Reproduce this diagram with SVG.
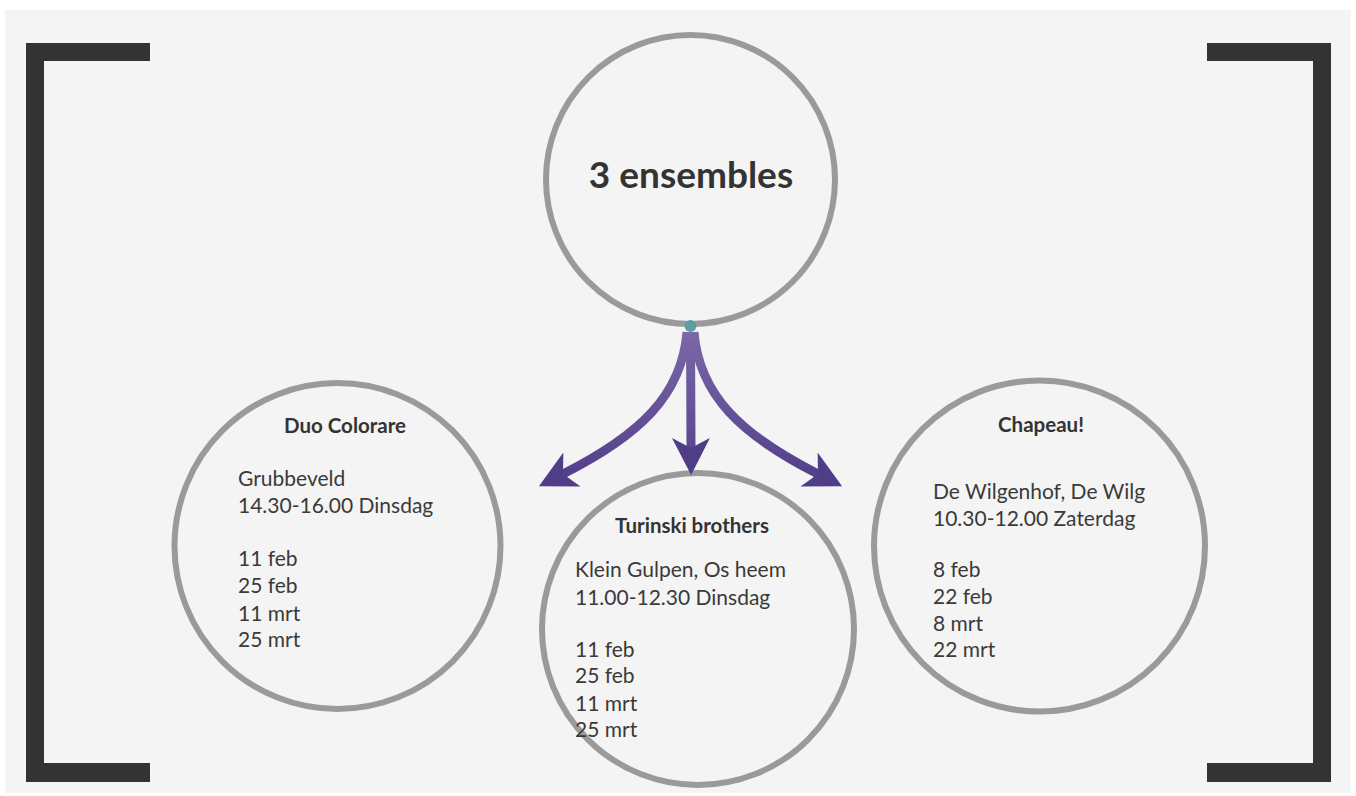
<svg xmlns="http://www.w3.org/2000/svg" width="1356" height="796" viewBox="0 0 1356 796">
<style>
.ring{fill:none;stroke:#9a9a9a;stroke-width:6}
.br{fill:#333}
.title{font-family:Lato,"Open Sans",sans-serif;font-weight:bold;fill:#333;text-anchor:middle}
.body{font-family:Lato,"Open Sans",sans-serif;font-size:21px;fill:#3a3a3a}
.arr{fill:none;stroke:url(#ag);stroke-width:9}
</style>
<defs>
<linearGradient id="ag" gradientUnits="userSpaceOnUse" x1="0" y1="330" x2="0" y2="480">
<stop offset="0" stop-color="#7b69a8"/>
<stop offset="1" stop-color="#533f8a"/>
</linearGradient>
<marker id="ah" viewBox="0 0 40 40" markerUnits="userSpaceOnUse" markerWidth="40" markerHeight="40" refX="10" refY="20" orient="auto">
<path d="M0,1 L37,20 L0,39 L10,20 Z" fill="#4f3d88"/>
</marker>
</defs>
<rect width="1356" height="796" fill="#ffffff"/>
<rect x="5" y="10" width="1346" height="783" fill="#f4f4f4"/>
<g id="brackets">
<path class="br" d="M26,43 H150 V61 H44 V763 H150 V782 H26 Z"/>
<path class="br" d="M1331,43 H1207 V61 H1313 V763 H1207 V782 H1331 Z"/>
</g>
<g id="node-main">
<circle class="ring" cx="690.5" cy="179.5" r="144.5"/>
<text class="title" x="691" y="188" font-size="37">3 ensembles</text>
</g>
<g id="node-duo">
<circle class="ring" cx="337.5" cy="546" r="163"/>
<text class="title" x="345" y="433" font-size="20.5">Duo Colorare</text>
<text class="body" x="238" y="486">Grubbeveld</text>
<text class="body" x="238" y="513">14.30-16.00 Dinsdag</text>
<text class="body" x="238" y="566">11 feb</text>
<text class="body" x="238" y="593">25 feb</text>
<text class="body" x="238" y="621">11 mrt</text>
<text class="body" x="238" y="647">25 mrt</text>
</g>
<g id="node-turinski">
<circle class="ring" cx="698" cy="629" r="156"/>
<text class="title" x="692" y="533" font-size="20.5">Turinski brothers</text>
<text class="body" x="575" y="577">Klein Gulpen, Os heem</text>
<text class="body" x="575" y="605">11.00-12.30 Dinsdag</text>
<text class="body" x="575" y="657">11 feb</text>
<text class="body" x="575" y="683">25 feb</text>
<text class="body" x="575" y="711">11 mrt</text>
<text class="body" x="575" y="737">25 mrt</text>
</g>
<g id="node-chapeau">
<circle class="ring" cx="1039.5" cy="546" r="165.5"/>
<text class="title" x="1041" y="432" font-size="20.5">Chapeau!</text>
<text class="body" x="933" y="499">De Wilgenhof, De Wilg</text>
<text class="body" x="933" y="526">10.30-12.00 Zaterdag</text>
<text class="body" x="933" y="577">8 feb</text>
<text class="body" x="933" y="604">22 feb</text>
<text class="body" x="933" y="631">8 mrt</text>
<text class="body" x="933" y="657">22 mrt</text>
</g>
<g id="connectors">
<path class="arr" d="M687,332 C682,395 640,435 563,474" marker-end="url(#ah)"/>
<path class="arr" d="M690.5,332 L691,448" marker-end="url(#ah)"/>
<path class="arr" d="M694,332 C699,395 741,435 818,474" marker-end="url(#ah)"/>
<circle cx="690.5" cy="326" r="6" fill="#5f9da4"/>
</g>
</svg>
